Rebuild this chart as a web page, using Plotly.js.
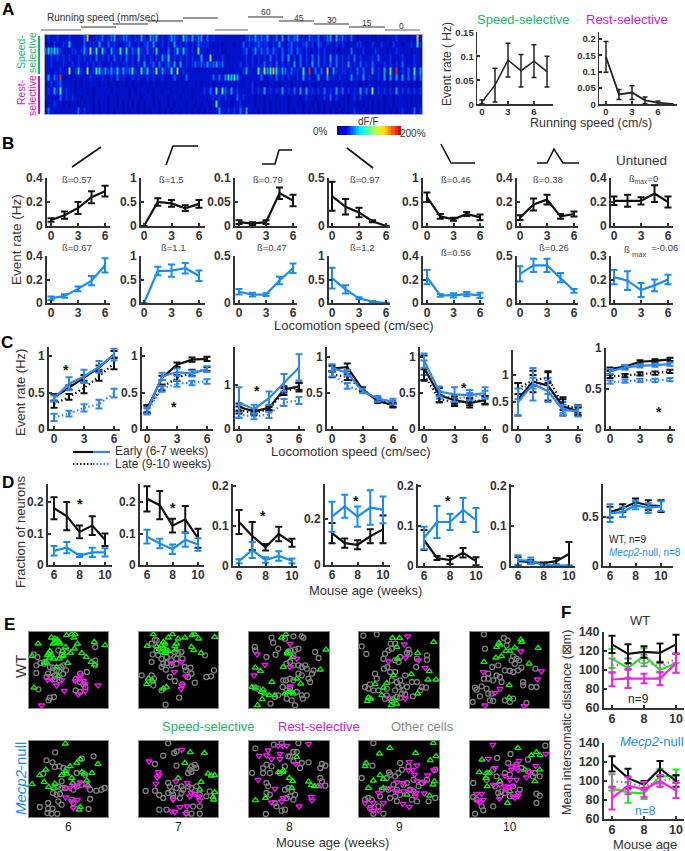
<!DOCTYPE html>
<html><head><meta charset="utf-8">
<script src="https://cdn.plot.ly/plotly-3.0.1.min.js"></script>
<style>html,body{margin:0;padding:0;background:#fff}#g{width:685px;height:851px}</style></head>
<body><div id="g"></div>
<script>
// ---------- DATA ----------
const heatRows = [
"1211211121 1113811223 1234123321 2142143412 1243215324 2341312111 1111111232 4232412314 1323412132 2312341423 2131011110 0110111201 101181",
"0102112151 1113122141 1312111231 1212314112 1214121212 1322210110 1110113121 2322212141 1231212312 1321211212 1010221012 1021102110 112162",
"3545421112 2124272615 2141262513 2521312511 1312515212 1611111110 0111112312 4132313213 1231321211 1212111101 1131112111 2111011211 110111",
"1121212121 1212121312 1213121312 1412121214 2512121212 1141171112 1011111212 1212131213 1412131213 1312141312 1213121112 1311121112 111211",
"1121112112 1211212121 1121212212 1214123131 2324141212 3232423423 1111121212 1213121312 1214131214 1312131312 1412131213 1112121213 111211",
"1111121171 2521712652 4242514236 2162512724 2261712111 1011111111 0111112411 1627468524 3131216191 3131814212 2121313114 1214161912 131614",
"1413291111 1111121112 1121312112 1211212112 1113111311 1111113131 4656411111 1131121312 1211214121 1411412121 1141214121 1214141414 131413",
"1121231111 0101111101 1011011010 1101101011 0111011011 0101110111 1111111112 0101011101 1101110111 0110111101 1011101011 0111010111 110101",
"1214261211 0111010111 1101111101 0111010110 1101110110 1112131616 3141211112 1214121214 1213141412 1213121413 1212141317 1212121412 121212",
"1111131212 1101110111 1011011101 1101110111 1011101110 1111012121 2111312111 0110111011 1011101211 0112131211 1012021101 1110110111 010111",
"0112110101 1010110101 1011010110 1010110101 1010111011 0101101611 1101120111 0110101101 1011010110 1010110101 1011010110 1010110111 110111",
"1311111111 1312110101 1010110101 1010101101 0101101010 1010101141 1212131411 1010101011 1010110101 1010101010 1012101010 1010101012 111312"
];
const colorbarSteps = [0,10,20,30,40,50,60,70,80,90,100,110,120,130,140,150,160,170,180,190];

const speedX = [0,1.5,3,4.5,6,7.5];
const speedMean = [0.005,0.04,0.092,0.07,0.09,0.068];
const speedErr = [0.004,0.035,0.035,0.034,0.034,0.032];
const restMean = [0.145,0.03,0.036,0.012,0.005,0.001];
const restErr = [0.047,0.015,0.021,0.01,0.005,0.001];

const locoX = [0,1.5,3,4.5,6];
const bWtMean = [[.05,.09,.15,.24,.29],[0,.5,.47,.37,.46],[.008,.005,.008,.068,.053],[.31,.2,.14,.05,0],[.6,.2,.14,.25,.18],[.07,.18,.22,.08,.1],[.21,.21,.21,.27,.2]];
const bWtErr  = [[.015,.03,.05,.05,.045],[0,.08,.07,.06,.08],[.004,.003,.004,.012,.012],[.15,.08,.05,.01,.002],[.1,.05,.03,.04,.06],[.02,.05,.04,.02,.02],[.035,.05,.03,.07,.045]];
const bNullMean = [[.04,.06,.12,.19,.32],[0,.68,.69,.74,.58],[.12,.09,.09,.24,.37],[.53,.29,.1,.03,0],[.22,.065,.065,.075,.065],[.31,.4,.4,.27,.13],[.21,.195,.155,.175,.2]];
const bNullErr  = [[.015,.015,.02,.04,.06],[0,.09,.13,.11,.11],[.03,.02,.015,.04,.05],[.22,.09,.02,.01,.005],[.06,.012,.018,.018,.022],[.08,.07,.07,.05,.02],[.03,.04,.03,.025,.02]];

const cEarlyWt = [[.43,.57,.7,.84,1.02],[.27,.7,.88,.95,.96],[.5,.4,.48,.9,.97],[.84,.86,.55,.39,.33],[.85,.47,.4,.36,.4],[.55,.88,.8,.42,.33],[.74,.77,.83,.84,.86]];
const cEarlyWtErr = [[.05,.03,.04,.03,.05],[.05,.03,.03,.03,.03],[.08,.05,.05,.07,.08],[.04,.05,.03,.03,.03],[.17,.1,.05,.06,.06],[.3,.2,.27,.17,.07],[.02,.02,.02,.02,.02]];
const cEarlyNull = [[.42,.62,.72,.85,1.02],[.25,.72,.78,.76,.82],[.6,.45,.7,1.05,1.4],[.85,.78,.53,.42,.38],[.95,.52,.48,.47,.5],[.5,.83,.7,.35,.33],[.71,.76,.78,.79,.8]];
const cEarlyNullErr = [[.04,.09,.09,.08,.08],[.04,.05,.05,.04,.04],[.35,.1,.15,.2,.3],[.05,.04,.03,.04,.04],[.1,.07,.1,.07,.08],[.25,.3,.2,.1,.1],[.03,.03,.02,.02,.02]];
const cLateWt = [[.34,.44,.56,.72,.9],[.28,.57,.7,.77,.82],[.43,.36,.45,.85,.95],[.76,.72,.55,.4,.33],[.75,.42,.37,.38,.4],[.75,.9,.95,.45,.37],[.65,.66,.68,.69,.71]];
const cLateWtErr = [[.05,.04,.07,.06,.08],[.05,.04,.04,.04,.03],[.08,.05,.05,.08,.1],[.04,.04,.02,.02,.02],[.08,.05,.05,.05,.05],[.1,.1,.1,.1,.07],[.02,.02,.02,.02,.02]];
const cLateNull = [[.16,.21,.29,.34,.49],[.24,.55,.62,.63,.65],[.33,.28,.33,.6,.65],[.77,.6,.52,.42,.37],[.85,.47,.42,.45,.48],[.7,.85,.8,.4,.32],[.58,.59,.6,.6,.61]];
const cLateNullErr = [[.05,.04,.05,.06,.06],[.04,.04,.04,.03,.03],[.07,.06,.08,.08,.08],[.04,.04,.02,.02,.02],[.1,.05,.05,.05,.05],[.15,.1,.15,.1,.08],[.02,.02,.02,.02,.02]];

const ageX = [6,7,8,9,10];
const dWt = [[.18,.155,.105,.125,.08],[.21,.19,.125,.145,.085],[.11,.075,.047,.08,.058],[.139,.095,.088,.125,.155],[.065,.02,.015,.033,.012],[.012,.01,.007,.012,.03],[.55,.59,.65,.62,.61]];
const dWtErr = [[.035,.045,.02,.03,.02],[.04,.045,.022,.042,.03],[.03,.035,.008,.018,.01],[.044,.02,.02,.03,.06],[.025,.005,.01,.012,.01],[.01,.005,.002,.008,.03],[.055,.04,.04,.05,.06]];
const dNull = [[.045,.055,.03,.04,.04],[.09,.068,.05,.08,.065],[.012,.04,.015,.025,.013],[.21,.255,.21,.25,.24],[.07,.11,.11,.14,.115],[.015,.013,.002,.001,.001],[.54,.55,.62,.59,.61]];
const dNullErr = [[.015,.018,.005,.015,.013],[.022,.015,.015,.022,.02],[.005,.02,.007,.012,.006],[.065,.05,.044,.075,.058],[.028,.04,.02,.03,.03],[.012,.008,.002,.001,.001],[.09,.05,.04,.05,.05]];

const fWtBlack = [127,117,119,118,127], fWtBlackErr = [9,10,6,10,10];
const fWtGreen = [112,102,115,100,107], fWtGreenErr = [10,10,8,8,10];
const fWtGrey = [105,106,110,103,112], fWtGreyErr = [7,6,6,6,5];
const fWtMag = [90,91,91,91,107], fWtMagErr = [7,10,5,7,10];
const fNullBlack = [118,103,96,113,100], fNullBlackErr = [8,10,4,8,6];
const fNullGreen = [92,88,87,105,105], fNullGreenErr = [2,11,6,8,7];
const fNullGrey = [100,98,94,100,103], fNullGreyErr = [7,7,4,6,3];
const fNullMag = [82,95,91,100,90], fNullMagErr = [12,9,8,6,8];

// E: cell positions (x,y pairs, field-of-view units)
const wt6Green=[115,100,97,137,103,232,155,82,165,85,172,88,178,95,165,98,160,100,180,100,200,75,215,72,225,72,222,82,232,100,197,110,223,115,188,122,212,128,245,128,258,140,282,95,314,105,273,155,283,163,150,122,147,130,155,135,142,135,150,142,160,145,140,155,135,158,178,145,190,135,203,158,170,170,175,197,188,138];
const wt6Grey=[102,132,113,140,122,158,110,165,135,155,285,110,285,150,285,165,150,170,160,172,158,187,145,190,165,195,178,182,190,190,198,180,190,165,170,180,110,188,260,185,240,190,228,205,240,215,250,222,116,237,150,262,162,260,146,270,227,240,240,245,256,230,140,200,152,200,165,207,178,210,185,135,200,125,175,120,133,160,183,170];
const wt6Mag=[143,208,157,208,170,225,185,210,193,242,125,285,225,212,242,195,238,205,250,212,255,222,255,242,235,252,293,225];
const wt7Green=[460,72,518,72,505,82,535,85,555,82,577,75,585,72,597,85,645,80,442,107,530,100,525,108,575,110,582,120,604,128,490,95,495,100,485,105,478,115,490,115,498,118,485,125,495,128,505,122,470,108,528,118,445,205,440,222,458,212,490,235,500,230];
const wt7Grey=[465,88,455,100,470,90,470,120,458,132,475,135,455,155,485,145,500,140,512,132,525,125,535,130,545,125,530,145,548,145,490,160,500,158,485,170,498,178,515,165,530,160,425,195,455,195,462,205,510,200,525,212,572,172,558,180,575,190,565,200,585,217,620,200,634,198,643,180,616,135,460,225,485,240,538,262,497,283,548,222,555,170,515,150];
const wt7Mag=[515,158,545,155,523,185,558,198,546,225,544,236];
const wt8Green=[858,72,845,82,767,172,782,182,850,170,862,125,816,215,757,230,768,232,790,238,785,245,795,250,808,255,787,267,773,285,825,255,855,250,865,245,977,118,878,140,960,178,890,205,902,220,873,245,880,250,862,130];
const wt8Grey=[765,110,767,120,815,82,820,97,835,115,827,133,800,140,865,125,855,85,880,78,905,78,910,82,872,120,880,135,885,118,895,115,860,160,870,155,880,165,895,165,905,170,915,165,920,175,945,125,955,143,940,180,935,190,925,205,930,215,905,195,895,190,850,210,858,210,848,230,870,205,880,210,835,255,825,260,812,280,860,265,875,270,885,285,908,265,920,255,860,240,870,235,890,245,905,255,775,235,765,232];
const wt8Mag=[772,132,795,163,763,195,870,100,890,145,870,170,870,228];
const wt9Green=[337,83,358,83,460,95,350,110,412,128,352,145,447,183,393,192,340,195,443,208,467,208,412,250,285,222,310,232,320,218,305,255,265,262,272,265,262,272,335,272,349,280,333,285,340,265];
const wt9Grey=[250,76,290,72,245,108,259,131,332,100,345,100,335,115,325,120,315,130,310,145,355,155,345,150,385,118,380,128,388,130,410,145,440,135,440,148,408,170,360,140,322,170,312,175,330,185,345,185,375,195,285,190,290,205,270,222,255,230,265,235,280,240,295,240,320,235,350,215,360,210,365,225,355,230,370,240,345,240,365,250,375,252,380,230,395,215,410,215,425,230,437,232,420,240,398,258,320,255,315,265,350,260,360,262,335,210];
const wt9Mag=[382,78,372,102,376,142,325,153,415,150,435,172,325,262,375,264];
const wt10Green=[657,98,660,103,650,110,723,88,726,95,705,112,678,122,690,122,648,142,665,138,612,155,748,160,775,113,688,225,688,262];
const wt10Grey=[612,72,672,83,683,90,680,105,615,115,700,138,710,145,695,150,718,150,705,160,637,170,655,165,675,180,690,182,700,185,715,180,725,172,767,175,625,190,612,205,625,205,640,210,605,228,585,232,590,238,620,235,625,250,635,250,600,258,578,275,630,270,640,272,675,270,690,275,700,265,730,215,730,225,755,230,770,230,740,278,660,200,650,195,665,215];
const wt10Mag=[723,123,610,185,785,183,773,207,660,235,645,248,615,285,733,287];
const null6Green=[196,402,240,448,230,460,293,463,210,470,197,485,200,492,245,487,252,492,275,490,138,480,120,497,133,517,97,524,146,532,165,522,162,535,185,497,215,505,260,513,263,527,218,520,237,600,240,592];
const null6Grey=[166,428,140,452,158,458,245,447,280,440,165,472,178,470,190,475,200,480,230,490,185,515,255,495,130,492,175,530,185,535,195,535,230,530,245,525,270,540,288,543,303,540,313,535,160,550,170,555,180,553,215,570,220,580,270,568,175,575,185,585,120,592,145,580,145,597,158,597,143,610,155,612,172,612,265,598,220,540];
const null6Mag=[200,535,210,535,225,530,240,518,260,530,197,563,215,575,232,570,220,595];
const null7Green=[571,428,614,430,555,460,625,492,635,498,645,497,604,517,645,548,640,562,642,570,535,505,600,540];
const null7Grey=[505,401,490,438,523,430,530,425,465,463,530,468,575,470,585,465,570,480,565,490,575,487,590,475,437,544,465,543,478,556,490,565,505,520,510,530,515,545,505,550,520,555,520,565,545,550,550,540,565,530,575,535,590,530,600,555,620,560,630,545,478,600,500,600,540,565,580,590,600,590,560,610,575,612,600,612,545,530,530,535];
const null7Mag=[546,420,447,455,475,487,478,497,472,503,468,522,528,515,562,520,575,550,585,552,570,560,595,560,600,572,520,570,540,592,562,590,515,605,525,607,558,612];
const null8Green=[835,488,850,483,767,572,797,565,890,442,848,487,868,505,878,515,925,516,933,527,943,530,953,530,875,535];
const null8Grey=[767,416,822,405,845,400,895,400,880,427,890,427,870,440,880,455,865,440,800,465,815,470,790,475,757,490,790,490,810,490,800,520,805,530,800,550,810,555,855,540,865,535,875,545,885,555,870,560,860,565,880,570,900,475,905,460,925,458,965,463,975,468,960,475,960,505,965,515,975,528,830,590,845,603,855,600,798,613,825,580,840,490,855,470];
const null8Mag=[805,422,835,408,848,408,860,408,778,438,800,437,840,432,815,448,840,448,887,462,925,403,775,510,825,537,815,578,850,565,960,527,933,562,935,572,897,590,845,575];
const null9Green=[459,400,329,415,298,432,406,430,467,440,258,460,255,470,450,452,300,497,280,513,310,508,265,535,462,515,458,525,310,535,448,558,380,555];
const null9Grey=[280,400,277,468,327,488,360,460,385,470,365,480,355,490,330,495,345,500,320,505,400,510,440,510,465,480,245,505,305,540,325,540,340,525,350,540,370,525,380,520,390,540,400,545,415,530,425,520,255,570,265,565,275,570,300,560,330,565,345,560,360,555,395,570,410,575,445,575,465,565,270,595,280,612,310,612,295,590,350,575];
const null9Mag=[387,457,410,467,385,482,397,480,460,482,403,495,442,497,432,516,410,515,350,518,370,520,325,535,345,545,295,550,370,545,390,540,407,550,432,551,405,560,280,580,255,580,310,580,368,582,387,592,270,597,280,603,295,602];
const null10Green=[714,415,755,437,770,428,781,437,606,450,598,488,620,490,628,490,618,505,780,480,765,515,622,530,660,515,690,545,683,580,735,480];
const null10Grey=[797,408,652,445,692,433,745,450,685,460,710,465,725,475,640,480,650,500,675,490,690,495,745,485,765,490,760,500,780,500,580,520,620,510,645,530,665,545,655,550,675,550,700,530,720,540,770,552,780,558,770,580,580,562,590,570,605,590,640,590,585,612,610,602,660,560,690,560];
const null10Mag=[639,405,625,447,798,432,718,453,645,475,695,470,707,468,715,482,695,480,768,468,740,503,748,487,675,498,690,510,640,525,660,525,675,530,685,535,695,530,680,540,710,510,715,550,700,560,715,558,590,552,605,552,595,575,610,570,600,578,658,567,705,565];

// ---------- BUILD ----------
const W=685,H=851,FONT='"Liberation Sans",Arial,sans-serif';
const BLACK='#111',BLUE='#1a8cf0',CBLUE='#2e86ee',INK='#333',GREEN='#20b86a',MAG='#d020d0';
const traces=[],layout={width:W,height:H,margin:{l:0,r:0,t:0,b:0},showlegend:false,paper_bgcolor:'#fff',plot_bgcolor:'rgba(0,0,0,0)',font:{family:FONT,color:INK},shapes:[],annotations:[],hovermode:false};
let axN=0;
function map(a,p){return a[0]+(p-a[1])*(a[2]-a[0])/(a[3]-a[1]);}
function axes(l,r,t,b,xa,ya){
  axN++;const s=axN===1?'':axN;const xk='xaxis'+s,yk='yaxis'+s;
  layout[xk]={domain:[l/W,r/W],range:[map(xa,l),map(xa,r)],anchor:'y'+s,showgrid:false,zeroline:false,fixedrange:true};
  layout[yk]={domain:[1-b/H,1-t/H],range:[map(ya,b),map(ya,t)],anchor:'x'+s,showgrid:false,zeroline:false,fixedrange:true};
  return {x:'x'+s,y:'y'+s,xk,yk};
}
function styleAxes(ax,xt,yt,fs,lw){
  const base={showline:true,linecolor:INK,linewidth:lw||2,ticks:'inside',ticklen:3,tickwidth:2,tickcolor:INK,tickmode:'array',tickfont:{family:FONT,size:fs||12,color:INK,weight:'bold'}};
  Object.assign(layout[ax.xk],base,{tickvals:xt,ticktext:xt.map(String),ticklabelstandoff:-2});
  Object.assign(layout[ax.yk],base,{tickvals:yt.map(Number),ticktext:yt.map(String)});
}
function line(ax,xs,ys,err,color,o){
  o=o||{};
  traces.push({type:'scatter',mode:'lines',x:xs,y:ys,xaxis:ax.x,yaxis:ax.y,cliponaxis:false,
    line:{color:color,width:o.w||2.2,dash:o.dash||'solid'},
    error_y:{type:'data',array:err,visible:true,color:color,thickness:o.et||2,width:o.cap||3.5}});
}
function note(text,x,y,size,color,o){
  o=o||{};
  layout.annotations.push(Object.assign({text:text,x:x/W,y:1-y/H,xref:'paper',yref:'paper',showarrow:false,xanchor:'center',yanchor:'middle',
    font:{family:FONT,size:size,color:color||INK,weight:o.bold?'bold':'normal'},textangle:o.rot||0,borderpad:0},o.anchor?{xanchor:o.anchor}:{}));
}
function seg(pts,color,w,dash){
  const d=pts.map((p,i)=>(i?'L':'M')+(p[0]/W).toFixed(5)+' '+(1-p[1]/H).toFixed(5)).join(' ');
  layout.shapes.push({type:'path',path:d,xref:'paper',yref:'paper',line:{color:color,width:w,dash:dash||'solid'}});
}

// ---- A ----
const heatZ=heatRows.map(r=>r.replace(/ /g,'').split('').map(c=>Number(c)*22));
const jet=[[0,'#0008a8'],[.11,'#0014d0'],[.22,'#0030f0'],[.33,'#0068ff'],[.44,'#00a0ff'],[.55,'#00d8e8'],[.66,'#30e8c0'],[.77,'#90e060'],[.88,'#e0c020'],[1,'#d03020']];
layout.shapes.push({type:'rect',xref:'paper',yref:'paper',layer:'below',x0:44.5/W,x1:422/W,y0:1-114/H,y1:1-34.5/H,fillcolor:'#0010c0',line:{width:0}});
let a=axes(44.5,422,34.5,114,[-0.5,44.5,125.5,422],[11.5,114,-0.5,34.5]);
traces.push({type:'heatmap',z:heatZ,xaxis:a.x,yaxis:a.y,zmin:0,zmax:198,colorscale:jet,showscale:false,zsmooth:false,xgap:1});
Object.assign(layout[a.xk],{showticklabels:false,ticks:'',mirror:true,showline:true,linecolor:'#aaa',linewidth:1});
Object.assign(layout[a.yk],{showticklabels:false,ticks:'',mirror:true,showline:true,linecolor:'#aaa',linewidth:1});
a=axes(337,401,126,135,[-0.5,337,19.5,401],[-0.5,135,0.5,126]);
traces.push({type:'heatmap',z:[colorbarSteps],xaxis:a.x,yaxis:a.y,zmin:0,zmax:190,showscale:false,zsmooth:false,
 colorscale:[[0,'#0000a0'],[.12,'#0000ff'],[.25,'#0080ff'],[.38,'#00ffff'],[.5,'#60ffa0'],[.62,'#c0ff40'],[.75,'#ffe000'],[.88,'#ff6000'],[1,'#e00000']]});
['xk','yk'].forEach(k=>Object.assign(layout[a[k]],{showticklabels:false,ticks:'',showline:false}));
note('dF/F',368,121,10);note('0%',320,132,10);note('200%',413,133,10);

[[41,81,30,'#999'],[81,116,27,INK],[113,148,24,INK],[148,183,21,INK],[183,218,18,INK],[215,248,30,'#999'],[248,283,17,INK],[279,314,21,INK],[314,349,24,INK],[349,385,27,INK],[385,420,30,'#999']]
  .forEach(s=>seg([[s[0],s[2]],[s[1],s[2]]],s[3],s[3]==='#999'?1.6:1));
note('Running speed (mm/sec)',46,17,10,INK,{anchor:'left'});
[['60',266,12],['45',299,18],['30',332,20],['15',367,23],['0',401,26]].forEach(s=>note(s[0],s[1],s[2],8.5));
seg([[39,36],[39,74]],'#12b868',2);seg([[39,76],[39,114]],'#cc10b8',2);
note('Speed-',21,52,10.5,GREEN,{rot:-90});note('selective',32,52,10.5,GREEN,{rot:-90});
note('Rest-',21,92,10.5,MAG,{rot:-90});note('selective',32,95,10.5,MAG,{rot:-90});

a=axes(477,553,32.3,104.3,[0,482,6,534],[0,104.3,.15,32.3]);
styleAxes(a,[0,3,6],['0','0.05','0.1','0.15'],9.5,1.4);line(a,speedX,speedMean,speedErr,'#222',{w:1.5,et:1.5,cap:2.5});
a=axes(599,677,32.3,104.3,[0,606,6,658],[0,104.3,.2,39]);
styleAxes(a,[0,3,6],['0','0.05','0.1','0.15','0.2'],9.5,1.4);line(a,speedX,restMean,restErr,'#222',{w:1.8,et:1.5,cap:2.5});
note('Speed-selective',523,20,13,GREEN);note('Rest-selective',627,20,13,MAG);
note('Event rate ( Hz)',447,64,12,INK,{rot:-90});note('Running speed (cm/s)',591,123,12.5);

// ---- B ----
const bL=[[47,51,105,110],[141,144,199,205],[235,239,293,297],[329,332,386,390],[423,427,480,484],[517,520,574,578],[611,614,668,673]];
const bTop=[['0','0.2','0.4'],['0','0.5','1'],['0','0.05','0.1'],['0','0.5'],['0','0.5','1'],['0','0.2','0.4'],['0','0.2','0.4']];
const bBot=[['0','0.2','0.4'],['0','0.5','1'],['0','0.5'],['0','0.5','1'],['0','0.2','0.4'],['0','0.5'],['0.1','0.2','0.3']];
bL.forEach((g,i)=>{
  const xa=[0,g[1],6,g[2]];
  let yt=bTop[i],v0=+yt[0],v1=+yt[yt.length-1];
  let ax=axes(g[0],g[3],178,226,xa,[v0,226,v1,178]);
  styleAxes(ax,[0,3,6],yt,12);line(ax,locoX,bWtMean[i],bWtErr[i],BLACK);
  yt=bBot[i];v0=+yt[0];v1=+yt[yt.length-1];
  ax=axes(g[0],g[3],256,303,xa,[v0,303,v1,256]);
  styleAxes(ax,[0,3,6],yt,12);line(ax,locoX,bNullMean[i],bNullErr[i],BLUE);
});
[['ß=0.57',77,179],['ß=1.5',171,179],['ß=0.79',268,179],['ß=0.97',365,179],['ß=0.46',456,179],['ß=0.38',548,179],['ß<sub>max</sub>=0',643,179],
 ['ß=0.67',77,248],['ß=1.1',173,248],['ß=0.47',272,248],['ß=1.2',362,248],['ß=0.56',456,252],['ß=0.26',554,248]].forEach(t=>note(t[0],t[1],t[2],9.5,'#444'));
note('ß',627,249,9.5,'#444');note('max',639,255,7.5,'#444');note('=-0.06',664,248,9.5,'#444');
note('Untuned',641,160,13.5,INK);
note('Event rate (Hz)',16,240,13.5,INK,{rot:-90});note('Locomotion speed (cm/sec)',354,325,13);
[[[72,167],[101,147]],[[166,165],[173,146],[198,146]],[[262,164],[275,164],[279,150],[292,150]],[[347,148],[373,168]],[[441,144],[451,163],[475,163]],[[537,163],[547,163],[554,149],[563,163],[579,163]]]
 .forEach(p=>seg(p,'#111',1.6));

// ---- C ----
const cL=[[49,54,114,120],[142,147,207,213],[235,239,299,305],[327,332,393,398],[420,424,485,491],[513,518,578,583],[606,610,670,675]];
const cY=[[['0','0.5','1'],1,356,347],[['0','0.5','1'],1,356,347],[['0','1'],1,385,347],[['0','0.5','1'],1,357,347],[['0','0.5','1'],1,357,347],[['0','0.5','1','1.5'],1,375,350],[['0','0.5','1'],1,348,348]];
cL.forEach((g,i)=>{
  const y=cY[i];
  const ax=axes(g[0],g[3],y[3],429,[0,g[1],6,g[2]],[0,429,y[1],y[2]]);
  styleAxes(ax,[0,3,6],y[0],12);
  line(ax,locoX,cLateWt[i],cLateWtErr[i],BLACK,{dash:'1.5px 2.5px',w:2.2});
  line(ax,locoX,cLateNull[i],cLateNullErr[i],CBLUE,{dash:'1.5px 2.5px',w:2.2});
  line(ax,locoX,cEarlyWt[i],cEarlyWtErr[i],BLACK);
  line(ax,locoX,cEarlyNull[i],cEarlyNullErr[i],CBLUE);
});
[[66,368],[174,405],[257,389],[464,386],[659,410]].forEach(s=>note('*',s[0],s[1]+2,14,'#111',{bold:true}));
note('Event rate (Hz)',20,393,13,INK,{rot:-90});note('Locomotion speed (cm/sec)',351,452,13);
seg([[73,452],[93,452]],'#111',2.2);seg([[93,452],[110,452]],CBLUE,2.2);
seg([[73,464],[93,464]],'#111',2.2,'1.5px 2px');seg([[93,464],[110,464]],CBLUE,2.2,'1.5px 2px');
note('Early (6-7 weeks)',114,451,12,INK,{anchor:'left'});note('Late (9-10 weeks)',114,464,12,INK,{anchor:'left'});

// ---- D ----
const dL=[[48,54,105,112],[140,147,198,204],[233,239,292,297],[325,332,383,390],[418,424,476,483],[511,518,569,575],[603,610,661,673]];
const dY=[[['0','0.1','0.2'],.2,502,565],[['0','0.1','0.2'],.2,502,565],[['0','0.1','0.2'],.2,486,566],[['0','0.2'],.2,519,565],[['0','0.1','0.2'],.2,486,566],[['0','0.1','0.2'],.2,486,566],[['0','0.5'],.5,517,566]];
dL.forEach((g,i)=>{
  const y=dY[i];
  const ax=axes(g[0],g[3],484,y[3],[6,g[1],10,g[2]],[0,y[3],y[1],y[2]]);
  styleAxes(ax,[6,8,10],y[0],12);
  line(ax,ageX,dWt[i],dWtErr[i],BLACK);line(ax,ageX,dNull[i],dNullErr[i],BLUE);
});
[[80,502],[173,506],[263,514],[356,499],[448,499]].forEach(s=>note('*',s[0],s[1]+2,14,'#111',{bold:true}));
note('WT, n=9',608,539,10,'#222',{anchor:'left'});note('<i>Mecp2</i>-null, n=8',608,552,10,BLUE,{anchor:'left'});
note('Fraction of neurons',20,532,13,INK,{rot:-90});note('Mouse age (weeks)',365,590,13);

// ---- E ----
const eCols=[[29,108],[139,218],[249,329],[359,439],[470,549]];
const eRanges=[[88,323],[417,655],[748,986],[237,476],[570,808]];
const eData=[[wt6Grey,wt6Green,wt6Mag],[wt7Grey,wt7Green,wt7Mag],[wt8Grey,wt8Green,wt8Mag],[wt9Grey,wt9Green,wt9Mag],[wt10Grey,wt10Green,wt10Mag],
             [null6Grey,null6Green,null6Mag],[null7Grey,null7Green,null7Mag],[null8Grey,null8Green,null8Mag],[null9Grey,null9Green,null9Mag],[null10Grey,null10Green,null10Mag]];
const eStyle=[['circle-open','#808080',5],['triangle-up-open','#10ee10',5.4],['triangle-down-open','#ff10ff',5.4]];
eData.forEach((set,i)=>{
  const c=i%5,row=i<5?0:1,t=row?741:632,b=row?817:708;
  const yr=row?[394,622]:[65,293];
  const ax=axes(eCols[c][0],eCols[c][1],t,b,[eRanges[c][0],eCols[c][0],eRanges[c][1],eCols[c][1]],[yr[1],b,yr[0],t]);
  ['xk','yk'].forEach(k=>Object.assign(layout[ax[k]],{showticklabels:false,ticks:'',showline:true,mirror:true,linecolor:'#888',linewidth:1}));
  layout.shapes.push({type:'rect',xref:'paper',yref:'paper',layer:'below',x0:eCols[c][0]/W,x1:eCols[c][1]/W,y0:1-b/H,y1:1-t/H,fillcolor:'#000',line:{width:0}});
  set.forEach((pts,k)=>{
    const xs=[],ys=[];for(let j=0;j<pts.length;j+=2){xs.push(pts[j]);ys.push(pts[j+1]);}
    traces.push({type:'scatter',mode:'markers',x:xs,y:ys,xaxis:ax.x,yaxis:ax.y,
      marker:{symbol:eStyle[k][0],size:eStyle[k][2],color:eStyle[k][1],line:{color:eStyle[k][1],width:1.3}}});
  });
});
note('WT',20,667,15,INK,{rot:-90});note('<i>Mecp2</i>-null',20,779,15,BLUE,{rot:-90});
note('Speed-selective',208,726,13,GREEN);note('Rest-selective',319,726,13,MAG);note('Other cells',422,726,13,'#888');
['6','7','8','9','10'].forEach((s,i)=>note(s,(eCols[i][0]+eCols[i][1])/2,827,12,'#222'));
note('Mouse age (weeks)',332,842,13);

// ---- F ----
function fPanel(t,b,sets){
  const ax=axes(604,684,t,b,[6,612,10,676],[60,b,140,t]);
  styleAxes(ax,[6,8,10],['60','80','100','120','140'],12.5);
  sets.forEach(s=>line(ax,ageX,s[0],s[1],s[2],s[3]));
}
fPanel(632,708,[[fWtGreen,fWtGreenErr,'#22e822'],[fWtGrey,fWtGreyErr,'#888',{dash:'1.5px 3px'}],[fWtBlack,fWtBlackErr,BLACK],[fWtMag,fWtMagErr,'#ff20e8']]);
fPanel(743,819,[[fNullGreen,fNullGreenErr,'#22e822'],[fNullGrey,fNullGreyErr,'#888',{dash:'1.5px 3px'}],[fNullBlack,fNullBlackErr,BLACK],[fNullMag,fNullMagErr,'#ff20e8']]);
note('WT',640,620,13);note('n=9',638,699,12,'#222');
note('<i>Mecp2</i>-null',652,741,13,BLUE);note('n=8',645,811,12,BLUE);
note('Mouse age',645,844,13);note('Mean intersomatic distance (⊠m)',567,723,12.5,INK,{rot:-90});

// panel letters
[['A',8,9],['B',8,143],['C',7,343],['D',8,482],['E',9,624],['F',566,612]].forEach(t=>note(t[0],t[1],t[2],17,'#000',{bold:true}));

Plotly.newPlot('g',traces,layout,{displayModeBar:false,staticPlot:true});
</script></body></html>
